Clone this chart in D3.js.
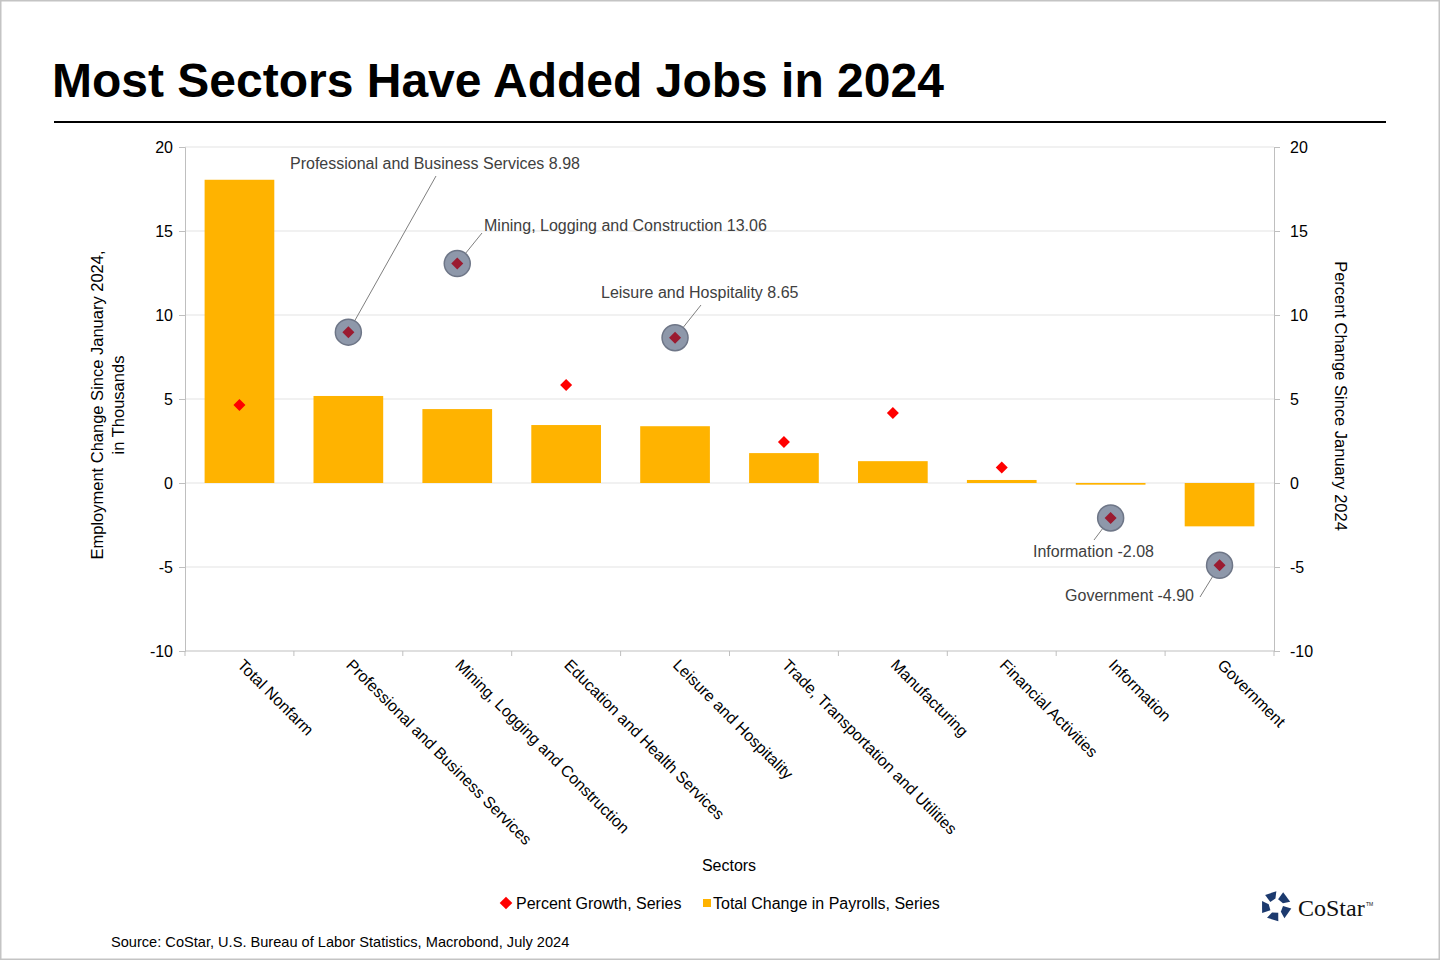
<!DOCTYPE html>
<html><head><meta charset="utf-8">
<script src="https://cdn.jsdelivr.net/npm/d3@7"></script>
<style>
html,body{margin:0;padding:0;background:#fff;}
svg{display:block;font-family:"Liberation Sans",Arial,sans-serif;}
</style></head><body>
<svg id="c" width="1440" height="960"></svg>
<script>
const categories = ["Total Nonfarm","Professional and Business Services","Mining, Logging and Construction","Education and Health Services","Leisure and Hospitality","Trade, Transportation and Utilities","Manufacturing","Financial Activities","Information","Government"];
const payrollChange = [18.05, 5.18, 4.4, 3.45, 3.38, 1.78, 1.3, 0.18, -0.1, -2.58];
const percentGrowth = [4.64, 8.98, 13.06, 5.83, 8.65, 2.44, 4.17, 0.93, -2.08, -4.90];
const highlighted = ["Professional and Business Services","Mining, Logging and Construction","Leisure and Hospitality","Information","Government"];
const annotationLabels = {
  "Professional and Business Services": "Professional and Business Services 8.98",
  "Mining, Logging and Construction": "Mining, Logging and Construction 13.06",
  "Leisure and Hospitality": "Leisure and Hospitality 8.65",
  "Information": "Information -2.08",
  "Government": "Government -4.90"
};
const yTicks = [-10,-5,0,5,10,15,20];

const svg = d3.select("#c");
svg.append("rect").attr("x",0.5).attr("y",0.5).attr("width",1439).attr("height",959)
  .attr("fill","#fff").attr("stroke","#c4c4c4").attr("stroke-width",2);

svg.append("text").attr("x",52).attr("y",97).attr("font-size",48).attr("font-weight","bold")
  .attr("fill","#000").text("Most Sectors Have Added Jobs in 2024");
svg.append("line").attr("x1",54).attr("x2",1386).attr("y1",122).attr("y2",122)
  .attr("stroke","#000").attr("stroke-width",2);

const L=185, R=1274, T=147, B=651;
const x = d3.scaleBand().domain(categories).range([L,R]).paddingInner(0.36).paddingOuter(0.18);
const xb = d3.scaleBand().domain(categories).range([L,R]);
const y = d3.scaleLinear().domain([-10,20]).range([B,T]);
const y2 = d3.scaleLinear().domain([-10,20]).range([B,T]);
const fmt = d => String(d).replace("\u2212","-");

// grid
svg.append("g").selectAll("line").data(yTicks.filter(d=>d!==-10)).join("line")
  .attr("x1",L).attr("x2",R).attr("y1",d=>y(d)).attr("y2",d=>y(d))
  .attr("stroke","#e3e3e3").attr("stroke-width",1);

const la = svg.append("g").attr("transform",`translate(${L},0)`)
  .call(d3.axisLeft(y).tickValues(yTicks).tickFormat(fmt).tickSize(6).tickPadding(6));
const ra = svg.append("g").attr("transform",`translate(${R},0)`)
  .call(d3.axisRight(y2).tickValues(yTicks).tickFormat(fmt).tickSize(6).tickPadding(10));
[la,ra].forEach(a=>{
  a.select(".domain").attr("stroke","#bfbfbf");
  a.selectAll(".tick line").attr("stroke","#bfbfbf");
  a.selectAll(".tick text").attr("font-size",16).attr("fill","#000").attr("font-family","Liberation Sans, Arial, sans-serif");
});

// bars
svg.append("g").selectAll("rect").data(categories).join("rect")
  .attr("x",d=>x(d)).attr("width",x.bandwidth())
  .attr("y",(d,i)=>y(Math.max(0,payrollChange[i])))
  .attr("height",(d,i)=>Math.abs(y(payrollChange[i])-y(0)))
  .attr("fill","#ffb300");

// bottom axis
svg.append("line").attr("x1",L).attr("x2",R).attr("y1",B).attr("y2",B).attr("stroke","#bfbfbf");
const bnds = categories.map(c=>xb(c)).concat([R]);
svg.append("g").selectAll("line").data(bnds).join("line")
  .attr("x1",d=>d).attr("x2",d=>d).attr("y1",B).attr("y2",B+5).attr("stroke","#bfbfbf");
svg.append("g").selectAll("text").data(categories).join("text")
  .attr("transform",d=>`translate(${xb(d)+xb.bandwidth()/2-3},${B+15}) rotate(45)`)
  .attr("font-size",16).attr("fill","#000").text(d=>d);

// annotations
const cx = c => xb(c)+xb.bandwidth()/2;
const annPos = {
  "Professional and Business Services": {tx:290, ty:169, anchor:"start", lx:436, ly:176},
  "Mining, Logging and Construction": {tx:484, ty:231, anchor:"start", lx:482, ly:233},
  "Leisure and Hospitality": {tx:601, ty:298, anchor:"start", lx:701, ly:305},
  "Information": {tx:1033, ty:557, anchor:"start", lx:1094, ly:540},
  "Government": {tx:1194, ty:601, anchor:"end", lx:1200, ly:597}
};
const ann = svg.append("g");
highlighted.forEach(c=>{
  const i = categories.indexOf(c);
  const px = cx(c), py = y2(percentGrowth[i]);
  const p = annPos[c];
  const ang = Math.atan2(p.ly-py, p.lx-px);
  ann.append("line").attr("x1",px+13*Math.cos(ang)).attr("y1",py+13*Math.sin(ang))
    .attr("x2",p.lx).attr("y2",p.ly).attr("stroke","#7f7f7f").attr("stroke-width",1);
  ann.append("circle").attr("cx",px).attr("cy",py).attr("r",13)
    .attr("fill","#8e98aa").attr("stroke","#6e7687").attr("stroke-width",1.5);
  ann.append("text").attr("x",p.tx).attr("y",p.ty).attr("text-anchor",p.anchor)
    .attr("font-size",16).attr("fill","#404040").text(annotationLabels[c]);
});

// diamonds
const diamond = d3.symbol().type(d3.symbolSquare).size(72);
svg.append("g").selectAll("path").data(categories).join("path")
  .attr("d",diamond)
  .attr("transform",(d,i)=>`translate(${cx(d)},${y2(percentGrowth[i])}) rotate(45)`)
  .attr("fill",d=>highlighted.includes(d)?"#9b1b30":"#ff0000");

// axis titles
svg.append("text").attr("transform","translate(103,405) rotate(-90)").attr("text-anchor","middle")
  .attr("font-size",16.5).attr("fill","#000").text("Employment Change Since January 2024,");
svg.append("text").attr("transform","translate(124,405) rotate(-90)").attr("text-anchor","middle")
  .attr("font-size",16.5).attr("fill","#000").text("in Thousands");
svg.append("text").attr("transform","translate(1335,396) rotate(90)").attr("text-anchor","middle")
  .attr("font-size",16.5).attr("fill","#000").text("Percent Change Since January 2024");
svg.append("text").attr("x",729).attr("y",871).attr("text-anchor","middle")
  .attr("font-size",16).attr("fill","#000").text("Sectors");

// legend
const lg = svg.append("g");
lg.append("path").attr("d",d3.symbol().type(d3.symbolSquare).size(80))
  .attr("transform","translate(506,903) rotate(45)").attr("fill","#ff0000");
lg.append("text").attr("x",516).attr("y",909).attr("font-size",16).attr("fill","#000").text("Percent Growth, Series");
lg.append("rect").attr("x",703).attr("y",899).attr("width",8).attr("height",8).attr("fill","#ffb300");
lg.append("text").attr("x",713).attr("y",909).attr("font-size",16).attr("fill","#000").text("Total Change in Payrolls, Series");

svg.append("text").attr("x",111).attr("y",947).attr("font-size",14.6).attr("fill","#000")
  .text("Source: CoStar, U.S. Bureau of Labor Statistics, Macrobond, July 2024");

// CoStar logo
const logo = svg.append("g").attr("transform","translate(1276,906)");
const petal = [[0,7],[0.18,15.5],[0.98,14.8],[0.88,7.5]];
for(let k=0;k<5;k++){
  const a0 = -Math.PI/2 + 0.3 + k*2*Math.PI/5;
  const pts = petal.map(([da,r])=>[r*Math.cos(a0+da),r*Math.sin(a0+da)]);
  logo.append("path").attr("d","M"+pts.map(p=>p.map(v=>v.toFixed(2)).join(",")).join("L")+"Z").attr("fill","#1c3a6e");
}
svg.append("text").attr("x",1298).attr("y",916).attr("font-family","Liberation Serif, Times New Roman, serif")
  .attr("font-size",24).attr("fill","#111").text("CoStar");
svg.append("text").attr("x",1366).attr("y",906).attr("font-size",5).attr("fill","#111").text("TM");
</script>
</body></html>
